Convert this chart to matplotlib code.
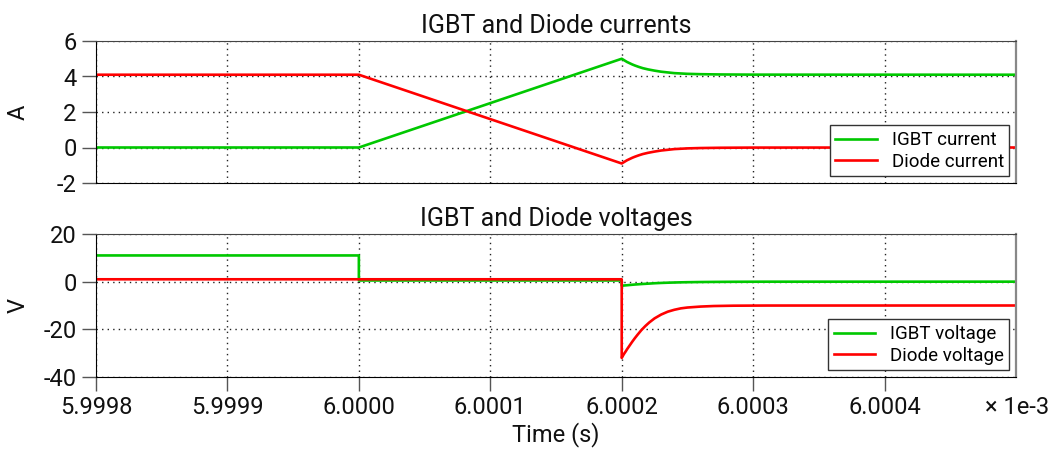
import matplotlib
matplotlib.use("Agg")
import matplotlib.pyplot as plt
import matplotlib.ticker as ticker

plt.rcParams['font.family'] = ['Roboto', 'DejaVu Sans']
plt.rcParams['axes.unicode_minus'] = False

# currents (time in seconds)
t_cur = [5.9998e-3, 6.0000e-3, 6.0002e-3, 6.000202e-3, 6.000204e-3, 6.000206e-3,
         6.000208e-3, 6.00021e-3, 6.000213e-3, 6.000216e-3, 6.00022e-3, 6.000225e-3,
         6.00023e-3, 6.000235e-3, 6.00024e-3, 6.00025e-3, 6.00026e-3, 6.000275e-3,
         6.0003e-3, 6.0005e-3]
igbt_cur = [0.0, 0.0, 5.0, 4.91, 4.82, 4.75, 4.68, 4.62, 4.54, 4.47, 4.40, 4.33,
            4.27, 4.23, 4.19, 4.15, 4.13, 4.115, 4.105, 4.10]
diode_cur = [4.1, 4.1, -0.9, -0.81, -0.72, -0.65, -0.58, -0.52, -0.44, -0.37, -0.30,
             -0.23, -0.17, -0.13, -0.09, -0.05, -0.03, -0.015, -0.005, 0.0]

# voltages
t_volt = [5.9998e-3, 6.0000e-3, 6.0000e-3, 6.0002e-3, 6.0002e-3,
          6.000201e-3, 6.000202e-3, 6.000203e-3, 6.000204e-3, 6.000205e-3, 6.000206e-3,
          6.000208e-3, 6.00021e-3, 6.000212e-3, 6.000215e-3, 6.000218e-3, 6.000221e-3,
          6.000225e-3, 6.00023e-3, 6.000235e-3, 6.00024e-3, 6.000245e-3, 6.00025e-3,
          6.00026e-3, 6.00027e-3, 6.000285e-3, 6.00031e-3, 6.0005e-3]
igbt_volt = [11.0, 11.0, 0.5, 0.5, -1.7,
             -1.65, -1.6, -1.55, -1.5, -1.45, -1.4,
             -1.3, -1.2, -1.12, -1.0, -0.9, -0.8,
             -0.66, -0.53, -0.43, -0.35, -0.28, -0.23,
             -0.15, -0.1, -0.05, -0.01, 0.0]
diode_volt = [1.0, 1.0, 1.0, 1.0, -32.0,
              -31.0, -30.1, -29.3, -28.4, -27.6, -26.8,
              -25.2, -23.7, -22.3, -20.3, -18.6, -17.1,
              -15.4, -13.8, -12.6, -11.8, -11.2, -10.85,
              -10.45, -10.22, -10.08, -10.02, -10.0]

x_ticks = [5.9998e-3, 5.9999e-3, 6.0000e-3, 6.0001e-3, 6.0002e-3, 6.0003e-3, 6.0004e-3]

green = '#00c800'
red = '#ff0000'

fig = plt.figure(figsize=(10.51, 4.51), dpi=100)
ax1 = fig.add_axes([96/1051, 1-183/451, 920/1051, 142/451])
ax2 = fig.add_axes([96/1051, 1-377/451, 920/1051, 143/451], sharex=ax1)

ax1.plot(t_cur, igbt_cur, color=green, lw=1.9, label='IGBT current')
ax1.plot(t_cur, diode_cur, color=red, lw=1.9, label='Diode current')
ax2.plot(t_volt, igbt_volt, color=green, lw=1.9, label='IGBT voltage')
ax2.plot(t_volt, diode_volt, color=red, lw=1.9, label='Diode voltage')

ax1.set_ylim(-2, 6)
ax1.set_yticks([-2, 0, 2, 4, 6])
ax2.set_ylim(-40, 20)
ax2.set_yticks([-40, -20, 0, 20])
ax1.set_xlim(5.9998e-3, 6.0005e-3)
ax1.set_xticks(x_ticks)
ax2.xaxis.set_major_formatter(ticker.FuncFormatter(lambda x, p: f"{x*1e3:.4f}"))

for ax in (ax1, ax2):
    ax.grid(True, linestyle=(0, (1, 3)), color='#222', linewidth=1.0)
    ax.spines['left'].set_color('black')
    ax.spines['bottom'].set_color('black')
    ax.spines['top'].set_color('#444')
    ax.spines['right'].set_color('#888')
    ax.spines['right'].set_linewidth(1.6)
    ax.tick_params(axis='both', length=10, width=1, color='#555', labelsize=17,
                   labelcolor='#111', pad=4)
    ax.yaxis.set_label_coords(-0.072, 0.5)

ax1.tick_params(axis='x', length=0, labelbottom=False)

ax1.set_title('IGBT and Diode currents', fontsize=18, pad=6, color='#111')
ax2.set_title('IGBT and Diode voltages', fontsize=18, pad=6, color='#111')
ax1.set_ylabel('A', fontsize=17, color='#111')
ax2.set_ylabel('V', fontsize=17, color='#111')
ax2.set_xlabel('Time (s)', fontsize=17, labelpad=2, color='#111')
fig.text(1049/1051, 1-407/451, '× 1e-3', ha='right', va='center', fontsize=17,
         color='#111')

for ax in (ax1, ax2):
    leg = ax.legend(loc='lower right', fontsize=13.5, fancybox=False, framealpha=1,
                    edgecolor='#333', borderpad=0.3, handlelength=2.2,
                    handletextpad=0.8, labelspacing=0.2, borderaxespad=0.35)
    leg.get_frame().set_linewidth(1.0)

plt.savefig('out.png', dpi=100)
